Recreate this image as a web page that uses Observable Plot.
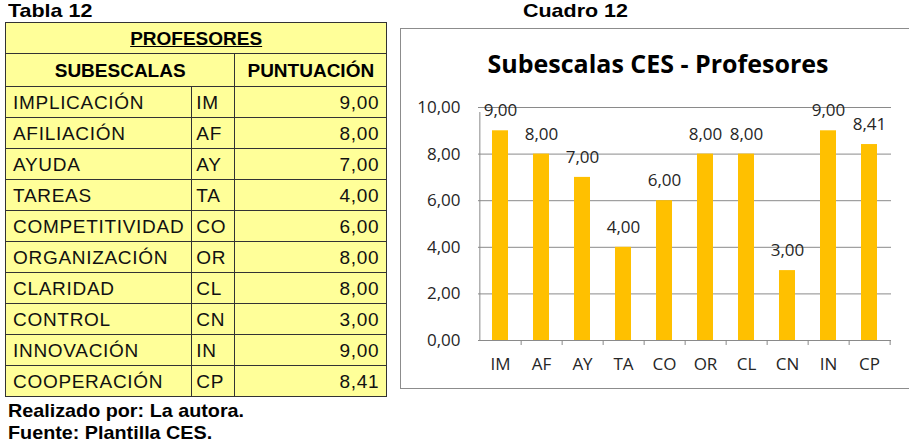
<!DOCTYPE html>
<html><head><meta charset="utf-8">
<script src="https://cdn.jsdelivr.net/npm/d3@7"></script>
<script src="https://cdn.jsdelivr.net/npm/@observablehq/plot@0.6"></script>
<style>
html,body{margin:0;padding:0;background:#fff;}
#page{position:relative;width:909px;height:442px;overflow:hidden;font-family:"Liberation Sans",Arial,sans-serif;color:#000;}
.lbl{position:absolute;font-weight:bold;font-size:19px;white-space:nowrap;transform:scaleX(1.13);transform-origin:0 0;}
.lbl.foot{transform:scaleX(1.04);}
#tbl{position:absolute;left:5px;top:22px;border-collapse:collapse;background:#FFFF99;font-size:19px;table-layout:fixed;}
#tbl td,#tbl th{border:1px solid #333;padding:0 7px;line-height:1;white-space:nowrap;}
#tbl td{letter-spacing:0.7px;color:#111;}
#tbl th{font-weight:bold;text-align:center;}
#tbl td.v{text-align:right;}
#box{position:absolute;left:400px;top:28px;width:520px;height:359px;border:1px solid #8c8c8c;box-sizing:content-box;}
#title{position:absolute;left:0;top:17px;width:514px;text-align:center;font-family:"Open Sans";font-weight:bold;font-size:25px;color:#000;}
#chart{position:absolute;left:0;top:0;}
</style></head>
<body><div id="page">
<div class="lbl" style="left:8px;top:0px;">Tabla 12</div>
<div class="lbl" style="left:523px;top:0px;">Cuadro 12</div>
<table id="tbl"></table>
<div class="lbl foot" style="left:8px;top:400px;">Realizado por: La autora.</div>
<div class="lbl foot" style="left:8px;top:422px;">Fuente: Plantilla CES.</div>
<div id="box"><div id="title">Subescalas CES - Profesores</div><div id="chart"></div></div>
</div>
<script>
const tableTitle = "PROFESORES";
const headers = ["SUBESCALAS", "PUNTUACIÓN"];
const names = ["IMPLICACIÓN","AFILIACIÓN","AYUDA","TAREAS","COMPETITIVIDAD","ORGANIZACIÓN","CLARIDAD","CONTROL","INNOVACIÓN","COOPERACIÓN"];
const codes = ["IM","AF","AY","TA","CO","OR","CL","CN","IN","CP"];
const values = [9.00, 8.00, 7.00, 4.00, 6.00, 8.00, 8.00, 3.00, 9.00, 8.41];
const yTicks = [0, 2, 4, 6, 8, 10];

const fmt = v => v.toFixed(2).replace(".", ",");
const data = codes.map((c, i) => ({code: c, name: names[i], value: values[i]}));

// table
const tbl = document.getElementById("tbl");
let html = `<colgroup><col style="width:185px"><col style="width:43px"><col style="width:152px"></colgroup>`;
html += `<tr style="height:31px"><th colspan="3"><u>${tableTitle}</u></th></tr>`;
html += `<tr style="height:33px"><th colspan="2">${headers[0]}</th><th>${headers[1]}</th></tr>`;
data.forEach(d => {
  html += `<tr style="height:31px"><td>${d.name}</td><td style="padding-left:4px">${d.code}</td><td class="v">${fmt(d.value)}</td></tr>`;
});
tbl.innerHTML = html;

// chart
const W = 509, H = 360, mL = 77, mR = 19, mT = 78, mB = 49;
const step = (W - mL - mR) / codes.length;
const grid = "#8a8a8a";
const ink = "#262626";
const chart = Plot.plot({
  width: W, height: H,
  marginLeft: mL, marginRight: mR, marginTop: mT, marginBottom: mB,
  style: {fontFamily: "Open Sans", fontSize: "17px", color: ink, background: "transparent", overflow: "visible"},
  x: {domain: codes, paddingInner: 0.6, paddingOuter: 0.3, label: null},
  y: {domain: [0, 10], label: null},
  marks: [
    Plot.ruleY(yTicks.filter(t => t > 0), {stroke: grid}),
    Plot.barY(data, {x: "code", y: "value", fill: "#FFC000"}),
    Plot.ruleY([0], {stroke: grid}),
    Plot.ruleX([codes[0]], {dx: -step / 2, y1: 0, y2: 10, insetBottom: -5, stroke: grid}),
    Plot.ruleX(codes, {dx: step / 2, y1: 0, y2: 0, insetBottom: -5, stroke: grid}),
    Plot.axisY({ticks: yTicks, tickFormat: fmt, tickSize: 0, tickPadding: 18, fontSize: 17, fill: ink}),
    Plot.axisX({tickSize: 0, tickPadding: 17, fontSize: 17, fill: ink}),
    Plot.text(data, {x: "code", y: "value", text: d => fmt(d.value), dy: -20, fontSize: 17, fill: ink})
  ]
});
document.getElementById("chart").appendChild(chart);
</script>
</body></html>
